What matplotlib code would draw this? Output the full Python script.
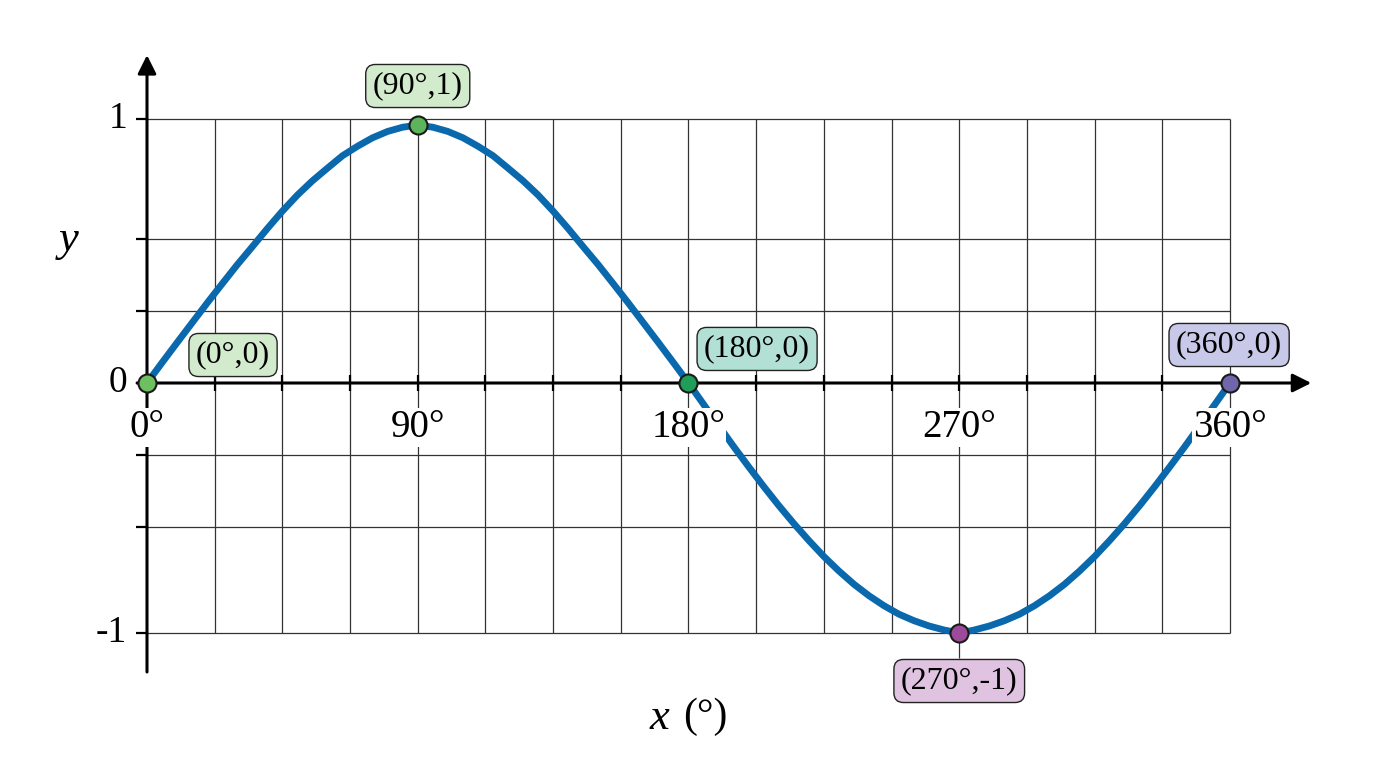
import numpy as np
import matplotlib
matplotlib.use('Agg')
import matplotlib.pyplot as plt

plt.rcParams['font.family'] = ['Liberation Serif', 'DejaVu Serif']

# curve values, every 5 degrees
x_deg = np.arange(0, 360.1, 5)
y_rise = [0, .077, .153, .228, .303, .376, .448, .516, .585, .651, .712, .766, .814,
          .861, .897, .929, .953, .969, .977]
y_fall = [-.085, -.17, -.254, -.335, -.414, -.49, -.562, -.63, -.694, -.752, -.805,
          -.851, -.891, -.925, -.951, -.972, -.988, -1]
y_vals = np.array(y_rise + y_rise[-2::-1] + y_fall + y_fall[-2::-1] + [0])

# labelled points
pt_x = [0, 90, 180, 270, 360]
pt_y = [0, 0.977, 0, -1, 0]
pt_text = ['(0°,0)', '(90°,1)', '(180°,0)', '(270°,-1)', '(360°,0)']
pt_color = ['#6dbf60', '#5cb55a', '#1f9e57', '#9c4a9a', '#6f67aa']
box_color = ['#d3ebcd', '#d3ebcd', '#b3e0d4', '#e0c3e0', '#c8c8e8']
box_pos = [(28.6, 0.106), (90, 1.125), (202.8, 0.129), (270, -1.192), (359.7, 0.144)]

x_grid = np.arange(22.5, 360.1, 22.5)
y_grid = [-1, -0.576, -0.288, 0.273, 0.545, 1]
x_ticklabels = [0, 90, 180, 270, 360]
y_ticklabels = [1, 0, -1]

# the picture has a slightly larger unit above zero than below
def fwd(y):
    y = np.asarray(y, dtype=float)
    return np.where(y > 0, y * 264 / 250, y)

def inv(t):
    t = np.asarray(t, dtype=float)
    return np.where(t > 0, t * 250 / 264, t)

fig = plt.figure(figsize=(13.76, 7.68), dpi=100)
ax = fig.add_axes([0, 0, 1, 1])
ax.set_yscale('function', functions=(fwd, inv))
ax.set_xlim(-147 / 3.00833, (1376 - 147) / 3.00833)
ax.set_ylim(-1.54, 1.4508)
ax.axis('off')

grid_c = '#333333'
ax.vlines(x_grid, -1, 1, color=grid_c, lw=0.9, zorder=1)
ax.hlines(y_grid, 0, 360, color=grid_c, lw=0.9, zorder=1)
# connector under the bottom label
ax.vlines(270, -1.1, -1, color=grid_c, lw=0.9, zorder=1)

# axes with arrows
ax.annotate('', xy=(387, 0), xytext=(-3.3, 0),
            arrowprops=dict(arrowstyle='-|>', lw=2.2, color='k', mutation_scale=28,
                            shrinkA=0, shrinkB=0), zorder=2)
ax.annotate('', xy=(0, 1.242), xytext=(0, -1.156),
            arrowprops=dict(arrowstyle='-|>', lw=2.2, color='k', mutation_scale=28,
                            shrinkA=0, shrinkB=0), zorder=2)

# tick marks
ax.vlines(x_grid, -0.032, 0.03, color='k', lw=1.6, zorder=2)
ax.hlines(y_grid + [0], -3.7, 0, color='k', lw=1.6, zorder=2)

# curve
ax.plot(x_deg, y_vals, color='#0a68ad', lw=4.9, solid_capstyle='butt',
        solid_joinstyle='round', zorder=3)

# tick labels with white backing
for v in x_ticklabels:
    ax.text(v, -0.178, f'{v}°', fontsize=28, ha='center', va='center', zorder=4,
            bbox=dict(boxstyle='square,pad=0.02', fc='white', ec='none'))
for v in y_ticklabels:
    ax.text(-6.6, v, f'{v}', fontsize=27, ha='right', va='center', zorder=4)

# points and their boxes
for i in range(len(pt_x)):
    ax.plot(pt_x[i], pt_y[i], 'o', ms=13, mfc=pt_color[i], mec='#1a1a1a', mew=1.5,
            zorder=6, clip_on=False)
    bx, by = box_pos[i]
    ax.text(bx, by, pt_text[i], fontsize=23, ha='center', va='center', zorder=7,
            bbox=dict(boxstyle='round,pad=0.22,rounding_size=0.3', fc=box_color[i],
                      ec='#222222', lw=1))

# axis titles
ax.text(-26, 0.541, 'y', fontsize=32, style='italic', ha='center', va='center')
ax.text(170.5, -1.34, 'x', fontsize=32, style='italic', ha='center', va='center')
ax.text(185.5, -1.335, '(°)', fontsize=30, ha='center', va='center')

fig.savefig('out.png', dpi=100, facecolor='white')
